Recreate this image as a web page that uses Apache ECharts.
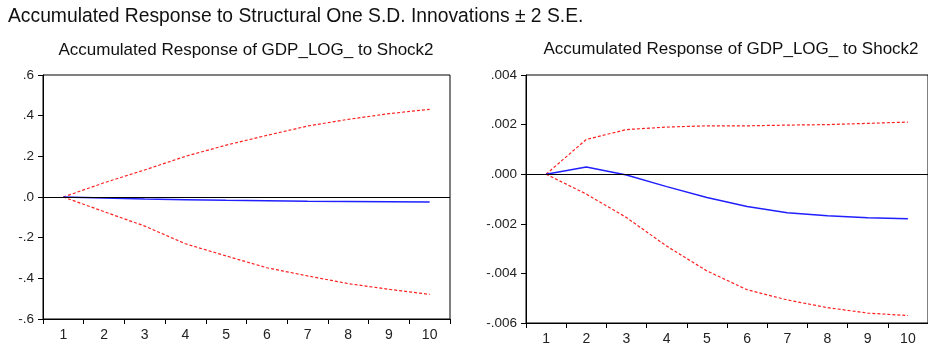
<!DOCTYPE html>
<html>
<head>
<meta charset="utf-8">
<script src="https://cdn.jsdelivr.net/npm/echarts@6/dist/echarts.min.js"></script>
<style>
  html, body { margin: 0; padding: 0; background: #fff; }
  #chart { width: 928px; height: 346px; }
</style>
</head>
<body>
<div id="chart"></div>
<script>
// Horizon periods
const periods = ['1', '2', '3', '4', '5', '6', '7', '8', '9', '10'];

// Panel 1: accumulated response with ±2 S.E. bands
const leftResponse = [0, -0.005, -0.010, -0.013, -0.016, -0.018, -0.021, -0.022, -0.023, -0.024];
const leftUpper    = [0, 0.070, 0.133, 0.200, 0.255, 0.303, 0.349, 0.382, 0.410, 0.431];
const leftLower    = [0, -0.072, -0.143, -0.230, -0.290, -0.348, -0.388, -0.426, -0.454, -0.479];

// Panel 2: accumulated response with ±2 S.E. bands
const rightResponse = [0, 0.00029, -0.00003, -0.00050, -0.00094, -0.00130, -0.00155, -0.00168, -0.00176, -0.00180];
const rightUpper    = [0, 0.00140, 0.00180, 0.00190, 0.00195, 0.00195, 0.00198, 0.00200, 0.00205, 0.00210];
const rightLower    = [0, -0.00080, -0.00175, -0.00290, -0.00390, -0.00466, -0.00507, -0.00538, -0.00560, -0.00570];

// Y-axis tick settings
const leftTicks = { min: -0.6, max: 0.6, interval: 0.2, digits: 1 };
const rightTicks = { min: -0.006, max: 0.004, interval: 0.002, digits: 3 };

const FONT = 'Liberation Sans, Arial, sans-serif';
const TEXT = '#222';

function stripZero(v, digits) {
  let s = Math.abs(v).toFixed(digits).replace(/^0/, '');
  return (v < -1e-12 ? '-' : '') + s;
}

function xAxisFor(idx) {
  return {
    type: 'category', gridIndex: idx, data: periods, boundaryGap: true,
    axisLine: { show: true, onZero: false, lineStyle: { color: '#000', width: 1 } },
    axisTick: { show: true, length: 5, lineStyle: { color: '#000' } },
    axisLabel: { color: TEXT, fontFamily: FONT, fontSize: 14, margin: 9 },
    splitLine: { show: false }
  };
}

function yAxisFor(idx, t) {
  return {
    type: 'value', gridIndex: idx, min: t.min, max: t.max, interval: t.interval,
    axisLine: { show: true, lineStyle: { color: '#000', width: 1 } },
    axisTick: { show: true, length: 5, lineStyle: { color: '#000' } },
    axisLabel: { color: TEXT, fontFamily: FONT, fontSize: 13.5, margin: 9,
                 formatter: v => stripZero(v, t.digits) },
    splitLine: { show: false }
  };
}

function band(idx, data) {
  return {
    type: 'line', xAxisIndex: idx, yAxisIndex: idx, data: data,
    symbol: 'none', silent: true,
    lineStyle: { color: '#ff2020', width: 1.2, type: [3, 2] }
  };
}

function response(idx, data) {
  return {
    type: 'line', xAxisIndex: idx, yAxisIndex: idx, data: data,
    symbol: 'none', silent: true, z: 3,
    lineStyle: { color: '#2020ff', width: 1.5 },
    markLine: {
      silent: true, symbol: 'none', label: { show: false },
      lineStyle: { color: '#000', width: 1, type: 'solid' },
      data: [{ yAxis: 0 }]
    }
  };
}

const chart = echarts.init(document.getElementById('chart'), null, { renderer: 'canvas' });
chart.setOption({
  animation: false,
  backgroundColor: '#fff',
  title: [
    { text: 'Accumulated Response to Structural One S.D. Innovations \u00b1 2 S.E.',
      left: 3, top: 2,
      textStyle: { fontFamily: FONT, fontSize: 19.3, fontWeight: 'normal', color: '#111' } },
    { text: 'Accumulated Response of GDP_LOG_ to Shock2',
      left: 241, top: 37, textAlign: 'center',
      textStyle: { fontFamily: FONT, fontSize: 17, fontWeight: 'normal', color: '#111' } },
    { text: 'Accumulated Response of GDP_LOG_ to Shock2',
      left: 726, top: 36, textAlign: 'center',
      textStyle: { fontFamily: FONT, fontSize: 17, fontWeight: 'normal', color: '#111' } }
  ],
  grid: [
    { left: 43, top: 75, width: 407, height: 244, show: true, borderColor: '#000', borderWidth: 1, containLabel: false },
    { left: 526, top: 75, width: 411, height: 248, show: true, borderColor: '#000', borderWidth: 1, containLabel: false }
  ],
  xAxis: [xAxisFor(0), xAxisFor(1)],
  yAxis: [yAxisFor(0, leftTicks), yAxisFor(1, rightTicks)],
  series: [
    band(0, leftUpper), band(0, leftLower), response(0, leftResponse),
    band(1, rightUpper), band(1, rightLower), response(1, rightResponse)
  ]
});
</script>
</body>
</html>
